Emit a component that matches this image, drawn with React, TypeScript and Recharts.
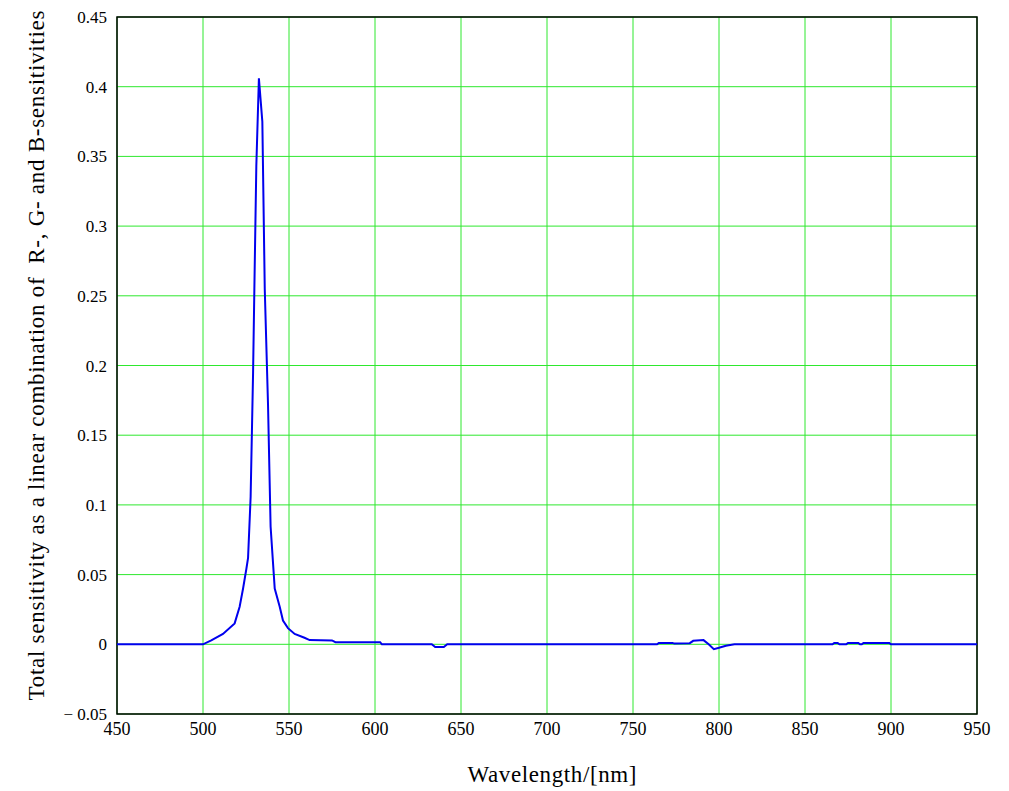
import React from 'react';
import { LineChart, Line, XAxis, YAxis, CartesianGrid, ReferenceArea, Label } from 'recharts';

// wavelength samples [nm]
const wavelengths = [
  450, 500, 504.8, 511.6, 518.4, 521.3, 523.3, 525.2, 526.2, 527.7, 529.1, 530, 531, 532.5,
  534.5, 535.9, 537.8, 539.3, 541.7, 544.6, 546.5, 549.4, 553.3, 559, 562, 575, 577, 603, 604,
  633, 635, 640, 642, 764, 765, 773, 774, 783, 785, 791, 794, 797, 800, 804, 809,
  866, 867, 869, 870, 874, 875, 881, 882, 883, 884, 899, 900, 950,
];

// total sensitivity
const sensitivity = [
  0, 0, 0.0028, 0.0074, 0.015, 0.027, 0.04, 0.054, 0.062, 0.106, 0.194, 0.266, 0.343, 0.406,
  0.375, 0.255, 0.172, 0.0845, 0.04, 0.027, 0.017, 0.0116, 0.0074, 0.0047, 0.003, 0.0028, 0.0015, 0.0015, 0,
  0, -0.002, -0.002, 0, 0, 0.001, 0.001, 0.0005, 0.0008, 0.0025, 0.003, 0, -0.0035, -0.0025, -0.001, 0,
  0, 0.001, 0.001, 0, 0, 0.001, 0.001, 0, 0, 0.001, 0.001, 0, 0,
];

const xTicks = [450, 500, 550, 600, 650, 700, 750, 800, 850, 900, 950];
const yTicks = [-0.05, 0, 0.05, 0.1, 0.15, 0.2, 0.25, 0.3, 0.35, 0.4, 0.45];

const data = wavelengths.map((w, i) => ({ w, s: sensitivity[i] }));

const FONT = 'Liberation Serif';

const fmtY = (v: number) => {
  if (v < 0) return '\u2212 ' + String(Math.abs(v));
  return String(v);
};

export default function App() {
  return (
    <div style={{ position: 'absolute', left: 0, top: 0, width: 1009, height: 791, background: '#fff', fontFamily: FONT }}>
      <LineChart
        width={1009}
        height={791}
        data={data}
        margin={{ top: 17, right: 32, left: 0, bottom: 0 }}
        style={{ fontFamily: FONT }}
      >
        <CartesianGrid stroke="#2ee82e" strokeWidth={1} />
        <XAxis
          dataKey="w"
          type="number"
          domain={[450, 950]}
          ticks={xTicks}
          axisLine={false}
          tickLine={false}
          height={77}
          tick={{ fill: '#000', fontSize: 18, fontFamily: FONT }}
          tickMargin={2}
        >
          <Label
            content={({ viewBox }: any) => (
              <text
                x={viewBox.x + viewBox.width / 2 + 5}
                y={viewBox.y + 68}
                textAnchor="middle"
                fontSize={23}
                fontFamily={FONT}
                fill="#000"
                textLength={169}
                lengthAdjust="spacing"
              >
                Wavelength/[nm]
              </text>
            )}
          />
        </XAxis>
        <YAxis
          type="number"
          domain={[-0.05, 0.45]}
          ticks={yTicks}
          axisLine={false}
          tickLine={false}
          width={117}
          tickFormatter={fmtY}
          tick={{ fill: '#000', fontSize: 17, fontFamily: FONT }}
          tickMargin={4}
        >
          <Label
            content={({ viewBox }: any) => {
              const cx = 44;
              const cy = viewBox.y + viewBox.height / 2 - 10;
              return (
                <text
                  x={cx}
                  y={cy}
                  transform={`rotate(-90 ${cx} ${cy})`}
                  textAnchor="middle"
                  fontSize={23}
                  fontFamily={FONT}
                  fill="#000"
                  textLength={690}
                  lengthAdjust="spacing"
                  style={{ whiteSpace: 'pre' }}
                >
                  {'Total sensitivity as a linear combination of  R-, G- and B-sensitivities'}
                </text>
              );
            }}
          />
        </YAxis>
        <Line
          type="linear"
          dataKey="s"
          stroke="#0000ee"
          strokeWidth={2}
          dot={false}
          isAnimationActive={false}
        />
        <ReferenceArea x1={450} x2={950} y1={-0.05} y2={0.45} fill="none" stroke="#000" strokeWidth={1.5} />
      </LineChart>
    </div>
  );
}
